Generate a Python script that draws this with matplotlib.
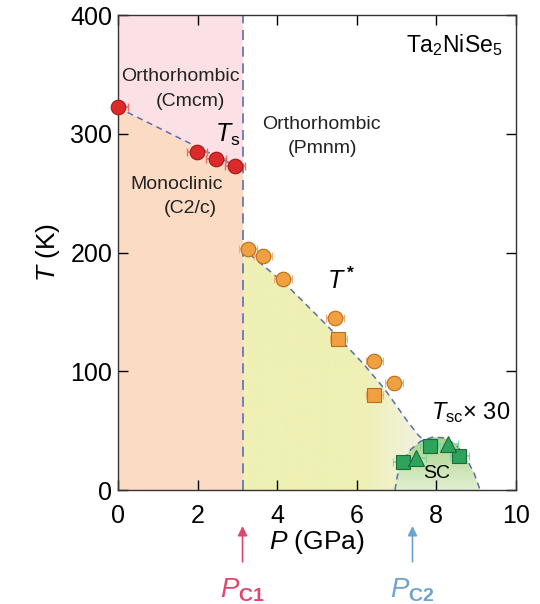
import numpy as np
import matplotlib
matplotlib.use("Agg")
import matplotlib.pyplot as plt
from matplotlib.colors import LinearSegmentedColormap
from matplotlib.patches import Polygon
import matplotlib.transforms as mtransforms

plt.rcParams['font.family'] = ['Liberation Sans', 'DejaVu Sans']
plt.rcParams['mathtext.fontset'] = 'custom'
plt.rcParams['mathtext.rm'] = 'Liberation Sans'
plt.rcParams['mathtext.it'] = 'Liberation Sans:italic'
plt.rcParams['mathtext.bf'] = 'Liberation Sans:bold'

# --- data ---
# structural transition Ts (red circles)
ts_P = [0.0, 1.98, 2.46, 2.94]
ts_T = [322.5, 284.5, 279.0, 273.0]
ts_err = [0.25, 0.25, 0.25, 0.25]

# T* (orange circles / squares)
tstar_c_P = [3.27, 3.65, 4.15, 5.45, 6.44, 6.94]
tstar_c_T = [202.7, 197.0, 177.5, 144.5, 108.5, 90.5]
tstar_s_P = [5.54, 6.44]
tstar_s_T = [127.5, 80.0]
tstar_err = 0.22

# Tsc x 30 (green squares / triangles)
sc_s_P = [7.17, 7.84, 8.58]
sc_s_T = [23.5, 37.0, 28.5]
sc_t_P = [7.50, 8.30]
sc_t_T = [27.0, 38.5]
sc_err = 0.25

Pc1 = 3.13
Pc2 = 7.40

# guide lines
ts_line_P = [0.0, Pc1]
ts_line_T = [322.0, 270.0]
tstar_line_P = [3.13, 3.4, 4.24, 5.24, 6.16, 6.7, 7.25, 7.55, 7.75]
tstar_line_T = [205.0, 196.0, 172.5, 139.0, 106.5, 85.0, 59.0, 46.0, 40.0]
dome_P = [6.96, 7.02, 7.15, 7.35, 7.6, 7.9, 8.2, 8.5, 8.75, 8.95, 9.1]
dome_T = [0.0, 12.0, 24.0, 34.0, 41.0, 44.5, 44.0, 38.0, 27.0, 14.0, 0.0]

fig = plt.figure(figsize=(5.4, 6.04), dpi=100)
ax = fig.add_axes([0.2185, 0.1887, 0.737, 0.7864])
ax.set_xlim(0, 10)
ax.set_ylim(0, 400)

blue = '#5a6fae'
txt = '#222222'

# pink / peach regions
ax.fill_between(ts_line_P, ts_line_T, 400, color='#fbe1e6', lw=0, zorder=0)
ax.fill_between(ts_line_P, 0, ts_line_T, color='#fbdbc4', lw=0, zorder=0)

# yellow region under T* with fade to white
ycmap = LinearSegmentedColormap.from_list('y', [(0, '#eef0b4'), (0.55, '#eef0b4'),
                                                (0.8, '#f1f2dc'), (1.0, '#ffffff')])
poly_P = tstar_line_P + [8.1, 8.5, Pc1]
poly_T = tstar_line_T + [22.0, 0.0, 0.0]
ypoly = Polygon(np.column_stack([poly_P, poly_T]), closed=True, fc='none', ec='none')
ax.add_patch(ypoly)
grad = np.linspace(0, 1, 256).reshape(1, -1)
im = ax.imshow(grad, extent=[Pc1, 8.5, 0, 210], cmap=ycmap, aspect='auto',
               origin='lower', zorder=0.5)
im.set_clip_path(ypoly)

# SC dome with vertical gradient
gcmap = LinearSegmentedColormap.from_list('g', ['#e2f0d2', '#a5d083'])
dpoly = Polygon(np.column_stack([dome_P, dome_T]), closed=True, fc='none', ec='none')
ax.add_patch(dpoly)
vgrad = np.linspace(0, 1, 256).reshape(-1, 1)
im2 = ax.imshow(vgrad, extent=[6.9, 9.2, 0, 46], cmap=gcmap, aspect='auto',
                origin='lower', zorder=0.6)
im2.set_clip_path(dpoly)

# dashed guide lines
ax.plot(ts_line_P, ts_line_T, ls=(0, (4, 3)), color=blue, lw=1.1, zorder=2)
ax.plot(tstar_line_P, tstar_line_T, ls=(0, (4, 3)), color=blue, lw=1.1, zorder=2)
ax.plot(dome_P, dome_T, ls=(0, (4, 3)), color=blue, lw=1.1, zorder=2)
ax.axvline(Pc1, ls=(0, (6, 4)), color=blue, lw=1.2, zorder=2)

# markers (error bars clipped at the axes, symbols not)
ax.errorbar(ts_P, ts_T, xerr=ts_err, fmt='none', ecolor='#f06a6a', elinewidth=1.2,
            capsize=3, zorder=4)
ax.plot(ts_P, ts_T, 'o', ms=10.5, mfc='#dc2a2a', mec='#a01818', mew=0.8, zorder=5,
        clip_on=False)
ax.errorbar(tstar_c_P, tstar_c_T, xerr=tstar_err, fmt='o', ms=10.5, mfc='#f0a040',
            mec='#b86e1e', mew=0.8, ecolor='#f5b070', elinewidth=1.2, capsize=3, zorder=5)
ax.errorbar(tstar_s_P, tstar_s_T, xerr=tstar_err, fmt='s', ms=10, mfc='#f0a040',
            mec='#b86e1e', mew=0.8, ecolor='#f5b070', elinewidth=1.2, capsize=3, zorder=5)
ax.errorbar(sc_s_P, sc_s_T, xerr=sc_err, fmt='s', ms=10, mfc='#2ea35c',
            mec='#1a6a3a', mew=0.8, ecolor='#7ed8a0', elinewidth=1.2, capsize=3, zorder=5)
ax.errorbar(sc_t_P, sc_t_T, xerr=sc_err, fmt='^', ms=12, mfc='#2ea35c',
            mec='#1a6a3a', mew=0.8, ecolor='#7ed8a0', elinewidth=1.2, capsize=3, zorder=5)

# text labels
ax.text(1.56, 348, 'Orthorhombic', ha='center', va='center', fontsize=14, color=txt)
ax.text(1.81, 327, '(Cmcm)', ha='center', va='center', fontsize=14, color=txt)
ax.text(2.75, 299, r'$T_{\mathrm{s}}$', ha='center', va='center', fontsize=18)
ax.text(5.1, 308, 'Orthorhombic', ha='center', va='center', fontsize=14, color=txt)
ax.text(5.15, 288, '(Pmnm)', ha='center', va='center', fontsize=14, color=txt)
ax.text(1.46, 257, 'Monoclinic', ha='center', va='center', fontsize=14, color=txt)
ax.text(1.81, 237, '(C2/c)', ha='center', va='center', fontsize=14, color=txt)
ax.text(9.65, 375, r'Ta$_2$NiSe$_5$', ha='right', va='center', fontsize=16.5)
ax.text(5.6, 176, r'$T^{\,\mathbf{*}}$', ha='center', va='center', fontsize=18)
ax.text(8.85, 65, r'$T_{\mathrm{sc}}$' + '× 30', ha='center', va='center', fontsize=17)
ax.text(8.0, 14, 'SC', ha='center', va='center', fontsize=14, zorder=6)

# axes styling
ax.set_xticks([0, 2, 4, 6, 8, 10])
ax.set_yticks([0, 100, 200, 300, 400])
ax.tick_params(direction='in', length=7, width=1, top=True, right=True, labelsize=18, pad=4)
ax.tick_params(axis='x', pad=10)
for s in ax.spines.values():
    s.set_linewidth(1.0)
    s.set_color('#333333')
ax.set_xlabel(r'$P$ (GPa)', fontsize=19, labelpad=0)
ax.set_ylabel(r'$T$ (K)', fontsize=19, labelpad=6)

# critical pressure arrows below axis
trans = mtransforms.blended_transform_factory(ax.transData, ax.transAxes)
for pc, col, lab in [(Pc1, '#e0466c', r'$P_{\mathbf{C1}}$'), (Pc2, '#6ea2d0', r'$P_{\mathbf{C2}}$')]:
    ax.annotate('', xy=(pc, -0.07), xytext=(pc, -0.157), xycoords=trans, textcoords=trans,
                arrowprops=dict(arrowstyle='-|>', color=col, lw=1.2, mutation_scale=14),
                annotation_clip=False)
    ax.text(pc, -0.212, lab, transform=trans, ha='center', va='center', fontsize=20,
            color=col, clip_on=False)

fig.savefig('out.png', dpi=100)
